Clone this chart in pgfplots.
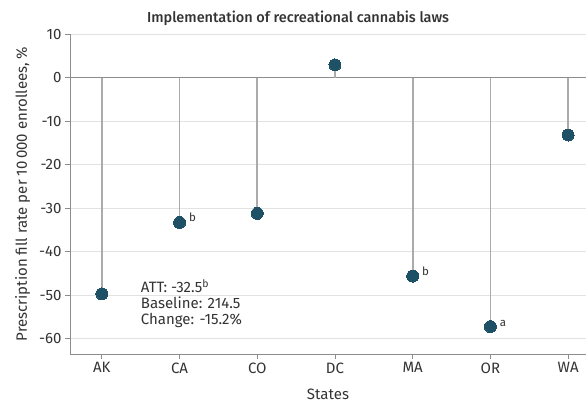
\documentclass[border=0pt]{standalone}
\usepackage{fontspec}
\setmainfont{Fira Sans}
\newfontfamily\titlefont{Fira Sans Medium}
\usepackage{pgfplots}
\pgfplotsset{compat=1.18}
\definecolor{dotc}{HTML}{1F5166}
\definecolor{stem}{HTML}{ABABAB}
\definecolor{gridc}{HTML}{E2E2E2}
\definecolor{spine}{HTML}{8C8C8C}
\definecolor{txt}{HTML}{333333}
\begin{document}
\begin{tikzpicture}
\begin{axis}[name=ax, scale only axis, width=516pt, height=320pt,
  xmin=-0.41, xmax=6.23, ymin=-63.5, ymax=10,
  xtick={0,...,6}, xticklabels={AK,CA,CO,DC,MA,OR,WA},
  ytick={-60,-50,...,10},
  axis x line*=bottom, axis y line*=left,
  ymajorgrids, grid style={draw=gridc, line width=0.8pt},
  axis line style={draw=spine, line width=0.8pt, -},
  tick style={draw=spine, line width=0.8pt}, tick align=outside, major tick length=5pt,
  ticklabel style={font=\fontsize{15}{17}\selectfont, text=txt},
  /pgf/number format/assume math mode=true,
  title={Implementation of recreational cannabis laws},
  title style={at={(0.442,1)}, anchor=south, yshift=-1pt, font=\fontsize{14.5}{16}\selectfont\titlefont, text=txt},
  xlabel={States}, ylabel={Prescription fill rate per 10\,000 enrollees, \%},
  label style={font=\fontsize{15}{17}\selectfont, text=txt},
  xlabel style={yshift=-9pt},
  ylabel style={yshift=2pt},
  clip=false]
\draw[spine, line width=0.8pt] (axis cs:-0.41,0) -- (axis cs:6.23,0);
\addplot[ycomb, draw=stem, line width=1.8pt, mark=none] coordinates {
  (0,-49.7) (1,-33.3) (2,-31.2) (3,2.9) (4,-45.6) (5,-57.2) (6,-13.2)};
\addplot[only marks, mark=*, mark size=6pt, mark options={fill=dotc, draw=dotc, line width=0pt}] coordinates {
  (0,-49.7) (1,-33.3) (2,-31.2) (3,2.9) (4,-45.6) (5,-57.2) (6,-13.2)};
\node[anchor=west, font=\fontsize{11.5}{13}\selectfont, text=txt] at ([xshift=6pt,yshift=5pt]axis cs:1,-33.3) {b};
\node[anchor=west, font=\fontsize{11.5}{13}\selectfont, text=txt] at ([xshift=6pt,yshift=5pt]axis cs:4,-45.6) {b};
\node[anchor=west, font=\fontsize{11.5}{13}\selectfont, text=txt] at ([xshift=6pt,yshift=3pt]axis cs:5,-57.2) {a};
\node[anchor=north west, align=left, inner sep=0pt, font=\fontsize{15}{16}\selectfont, text=txt] at (axis cs:0.50,-46.4)
  {ATT: -32.5\textsuperscript{b}\\Baseline: 214.5\\Change: -15.2\%};
\end{axis}
\pgfresetboundingbox
\path[use as bounding box] ([shift={(-70pt,-52pt)}]ax.south west) rectangle ([shift={(0pt,34pt)}]ax.north east);
\end{tikzpicture}
\end{document}
